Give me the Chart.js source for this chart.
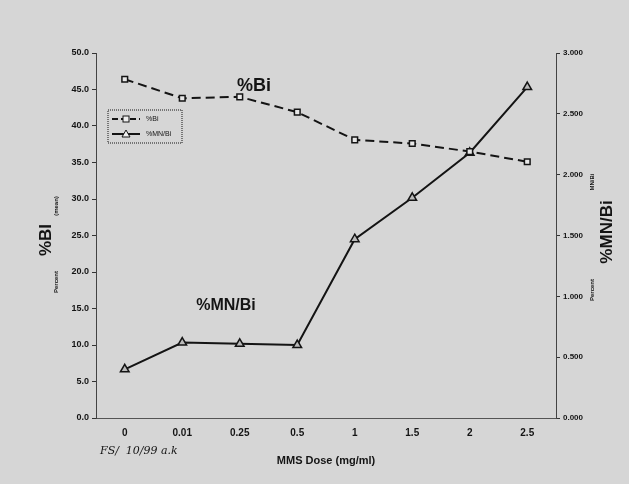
<!DOCTYPE html>
<html>
<head>
<meta charset="utf-8">
<script src="https://cdn.jsdelivr.net/npm/chart.js@4"></script>
<style>
  html, body { margin: 0; padding: 0; background: #d6d6d6; }
  #wrap { width: 629px; height: 484px; position: relative; }
</style>
</head>
<body>
<div id="wrap"><canvas id="chart" width="629" height="484"></canvas></div>
<script>
// MMS dose categories
const doses = ['0', '0.01', '0.25', '0.5', '1', '1.5', '2', '2.5'];
// %Bi (left axis)
const pctBi = [46.4, 43.8, 44.0, 41.9, 38.1, 37.6, 36.5, 35.1];
// %MN/Bi (right axis)
const pctMnBi = [0.40, 0.62, 0.61, 0.60, 1.47, 1.81, 2.18, 2.72];

const ink = '#141414';

// draws the little legend box, axis titles and the big labels
const extras = {
  id: 'extras',
  afterDraw(chart) {
    const ctx = chart.ctx;
    ctx.save();
    ctx.fillStyle = ink;
    ctx.strokeStyle = ink;

    // legend box
    ctx.setLineDash([1, 1]);
    ctx.lineWidth = 1;
    ctx.strokeRect(108, 110, 74, 33);
    ctx.setLineDash([]);
    ctx.lineWidth = 2;
    ctx.setLineDash([6, 3]);
    ctx.beginPath(); ctx.moveTo(112, 119); ctx.lineTo(140, 119); ctx.stroke();
    ctx.setLineDash([]);
    ctx.beginPath(); ctx.moveTo(112, 134); ctx.lineTo(140, 134); ctx.stroke();
    ctx.lineWidth = 1;
    ctx.fillStyle = '#eee';
    ctx.fillRect(123, 116, 6, 6); ctx.strokeRect(123, 116, 6, 6);
    ctx.beginPath(); ctx.moveTo(126, 130); ctx.lineTo(130, 137); ctx.lineTo(122, 137); ctx.closePath();
    ctx.fill(); ctx.stroke();
    ctx.fillStyle = ink;
    ctx.font = '7px "Liberation Sans"';
    ctx.textBaseline = 'middle';
    ctx.textAlign = 'left';
    ctx.fillText('%Bi', 146, 119);
    ctx.fillText('%MN/Bi', 146, 134);

    // big labels on the plot
    ctx.textAlign = 'center';
    ctx.font = 'bold 18px "Liberation Sans"';
    ctx.fillText('%Bi', 254, 86);
    ctx.font = 'bold 16px "Liberation Sans"';
    ctx.fillText('%MN/Bi', 226, 306);

    // rotated axis titles
    const vtext = (txt, x, y, font) => {
      ctx.save();
      ctx.translate(x, y);
      ctx.rotate(-Math.PI / 2);
      ctx.font = font;
      ctx.fillText(txt, 0, 0);
      ctx.restore();
    };
    vtext('%BI', 46, 240, 'bold 17px "Liberation Sans"');
    vtext('Percent', 56, 282, 'bold 6px "Liberation Sans"');
    vtext('(mean)', 56, 206, 'bold 6px "Liberation Sans"');
    vtext('%MN/Bi', 607, 232, 'bold 17px "Liberation Sans"');
    vtext('Percent', 592, 290, 'bold 6px "Liberation Sans"');
    vtext('MN/Bi', 592, 182, 'bold 6px "Liberation Sans"');

    // handwritten note
    ctx.textAlign = 'left';
    ctx.font = 'italic 11px "DejaVu Serif"';
    ctx.fillText('FS/  10/99 a.k', 100, 451);
    ctx.restore();
  }
};

new Chart(document.getElementById('chart'), {
  type: 'line',
  data: {
    labels: doses,
    datasets: [
      {
        label: '%Bi',
        data: pctBi,
        yAxisID: 'y',
        borderColor: ink,
        borderWidth: 2,
        borderDash: [9, 5],
        pointStyle: 'rect',
        pointRadius: 4,
        pointBackgroundColor: '#e8e8e8',
        pointBorderColor: ink,
        pointBorderWidth: 1.5,
        tension: 0
      },
      {
        label: '%MN/Bi',
        data: pctMnBi,
        yAxisID: 'y1',
        borderColor: ink,
        borderWidth: 2,
        pointStyle: 'triangle',
        pointRadius: 5,
        pointBackgroundColor: '#bbb',
        pointBorderColor: ink,
        pointBorderWidth: 1.5,
        tension: 0
      }
    ]
  },
  options: {
    responsive: false,
    animation: false,
    layout: { padding: { top: 53, left: 0, right: 0, bottom: 12 } },
    plugins: {
      legend: { display: false },
      tooltip: { enabled: false }
    },
    scales: {
      x: {
        offset: true,
        afterFit(scale) { scale.height = 54; },
        grid: { display: false, drawTicks: false },
        border: { color: '#555', width: 1, dash: [2, 1] },
        ticks: { color: ink, padding: 9, font: { family: 'Liberation Sans', size: 10, weight: 'bold' } },
        title: {
          display: true,
          text: 'MMS Dose (mg/ml)',
          color: ink,
          padding: { top: 8 },
          font: { family: 'Liberation Sans', size: 11, weight: 'bold' }
        }
      },
      y: {
        position: 'left',
        min: 0,
        max: 50,
        afterFit(scale) { scale.width = 96; },
        grid: { drawOnChartArea: false, tickLength: 4, color: '#333' },
        border: { color: '#444', width: 1, dash: [2, 1] },
        ticks: {
          stepSize: 5,
          color: ink,
          padding: 3,
          font: { family: 'Liberation Sans', size: 9, weight: 'bold' },
          callback: v => v.toFixed(1)
        }
      },
      y1: {
        position: 'right',
        min: 0,
        max: 3,
        afterFit(scale) { scale.width = 73; },
        grid: { drawOnChartArea: false, tickLength: 4, color: '#333' },
        border: { color: '#444', width: 1, dash: [2, 1] },
        ticks: {
          stepSize: 0.5,
          color: ink,
          padding: 3,
          font: { family: 'Liberation Sans', size: 8, weight: 'bold' },
          callback: v => v.toFixed(3)
        }
      }
    }
  },
  plugins: [extras]
});
</script>
</body>
</html>
